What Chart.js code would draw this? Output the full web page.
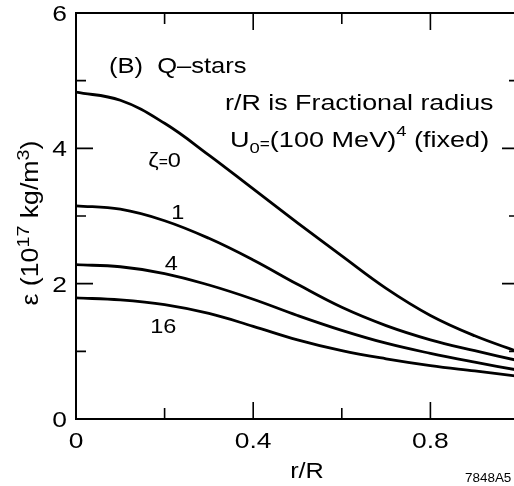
<!DOCTYPE html>
<html lang="en">
<head>
<meta charset="UTF-8">
<title>Q-stars energy density profile</title>
<script src="https://cdn.jsdelivr.net/npm/chart.js"></script>
<style>
  html, body { margin: 0; padding: 0; background: #fff; overflow: hidden; }
  #wrap { width: 514px; height: 486px; overflow: hidden; }
  #chart { width: 530px; height: 486px; }
</style>
</head>
<body>
<div id="wrap"><canvas id="chart" width="530" height="486"></canvas></div>
<script>
// fractional radius r/R
const radius = [0, 0.1, 0.2, 0.3, 0.4, 0.5, 0.6, 0.7, 0.8, 0.9, 1.0];
// energy density, 10^17 kg/m^3, one list per zeta
const zeta0 = [4.83, 4.71, 4.37, 3.90, 3.40, 2.90, 2.41, 1.93, 1.53, 1.23, 0.99];
const zeta1 = [3.15, 3.10, 2.93, 2.67, 2.35, 1.99, 1.65, 1.38, 1.17, 1.01, 0.86];
const zeta4 = [2.28, 2.25, 2.15, 1.98, 1.77, 1.53, 1.31, 1.12, 0.97, 0.84, 0.72];
const zeta16 = [1.79, 1.76, 1.69, 1.56, 1.37, 1.17, 1.01, 0.89, 0.79, 0.71, 0.63];
const curveNames = ['ζ=0', '1', '4', '16'];

const xTicks = [0, 0.4, 0.8];
const xMinor = [0.2, 0.6];
const yTicks = [0, 2, 4, 6];
const yMinor = [1, 3, 5];

const FONT = '"Liberation Sans", Arial, Helvetica, sans-serif';

function measure(ctx, s, size, sx) {
    ctx.font = size + 'px ' + FONT;
    return ctx.measureText(s).width * sx;
}

// draws a row of text pieces [text, size, dy]; sx widens the glyphs like the scan
function drawRuns(ctx, parts, x, y, align, sx) {
    sx = sx || 1.18;
    let total = 0;
    parts.forEach(p => total += measure(ctx, p[0], p[1], sx));
    let cx = x;
    if (align === 'center') cx = x - total / 2;
    if (align === 'right') cx = x - total;
    parts.forEach(p => {
        ctx.save();
        ctx.font = p[1] + 'px ' + FONT;
        ctx.textBaseline = 'alphabetic';
        ctx.translate(cx, y + (p[2] || 0));
        ctx.scale(sx, 1);
        ctx.fillText(p[0], 0, 0);
        ctx.restore();
        cx += measure(ctx, p[0], p[1], sx);
    });
}

const decor = {
    id: 'decor',
    afterDraw(chart) {
        const ctx = chart.ctx;
        const { left, right, top, bottom } = chart.chartArea;
        const xs = chart.scales.x, ys = chart.scales.y;
        ctx.save();
        ctx.strokeStyle = '#000';
        ctx.fillStyle = '#000';
        ctx.lineWidth = 2;
        ctx.strokeRect(left, top, right - left, bottom - top);

        ctx.lineWidth = 1.6;
        ctx.beginPath();
        xTicks.concat(xMinor).forEach(v => {
            const len = xTicks.includes(v) ? 17 : 11;
            const px = xs.getPixelForValue(v);
            ctx.moveTo(px, bottom); ctx.lineTo(px, bottom - len);
            ctx.moveTo(px, top); ctx.lineTo(px, top + len);
        });
        yTicks.concat(yMinor).forEach(v => {
            const len = yTicks.includes(v) ? 17 : 10;
            const py = ys.getPixelForValue(v);
            ctx.moveTo(left, py); ctx.lineTo(left + len, py);
            ctx.moveTo(right, py); ctx.lineTo(right - len, py);
        });
        ctx.stroke();

        // tick labels
        xTicks.forEach(v => {
            drawRuns(ctx, [[String(v), 22]], xs.getPixelForValue(v), bottom + 29, 'center', 1.2);
        });
        yTicks.forEach(v => {
            drawRuns(ctx, [[String(v), 22]], left - 9, ys.getPixelForValue(v) + 8, 'right', 1.2);
        });

        // axis titles
        drawRuns(ctx, [['r/R', 22]], 307, 478, 'center', 1.15);
        ctx.save();
        ctx.translate(38, 223);
        ctx.rotate(-Math.PI / 2);
        drawRuns(ctx, [['ε (10', 23], ['17', 17, -9], [' kg/m', 23], ['3', 17, -9], [')', 23]], 0, 0, 'center', 1.16);
        ctx.restore();

        // annotations
        drawRuns(ctx, [['(B)  Q–stars', 22]], 109, 73, 'left', 1.16);
        drawRuns(ctx, [['r/R is Fractional radius', 22]], 225, 110, 'left', 1.22);
        drawRuns(ctx, [['U', 22], ['0', 15, 6], ['=', 14, 2], ['(100 MeV)', 22], ['4', 15, -11], [' (fixed)', 22]], 230, 147, 'left', 1.23);

        // curve labels, placed in data space
        drawRuns(ctx, [['ζ', 21], ['=', 14], ['0', 21]], xs.getPixelForValue(0.2), ys.getPixelForValue(3.72), 'center', 1.12);
        drawRuns(ctx, [[curveNames[1], 21]], xs.getPixelForValue(0.23), ys.getPixelForValue(2.95), 'center', 1.12);
        drawRuns(ctx, [[curveNames[2], 21]], xs.getPixelForValue(0.215), ys.getPixelForValue(2.2), 'center', 1.12);
        drawRuns(ctx, [[curveNames[3], 21]], xs.getPixelForValue(0.197), ys.getPixelForValue(1.27), 'center', 1.12);

        drawRuns(ctx, [['7848A5', 12]], 465, 482, 'left', 1.12);
        ctx.restore();
    }
};

const series = [zeta0, zeta1, zeta4, zeta16];

new Chart(document.getElementById('chart'), {
    type: 'line',
    data: {
        datasets: series.map((vals, i) => ({
            label: curveNames[i],
            data: radius.map((r, k) => ({ x: r, y: vals[k] })),
            borderColor: '#000',
            borderWidth: 2.8,
            pointRadius: 0,
            tension: 0.4,
            fill: false
        }))
    },
    options: {
        responsive: false,
        animation: false,
        devicePixelRatio: 1,
        layout: { padding: { top: 13, right: 11, left: 0, bottom: 0 } },
        plugins: { legend: { display: false }, tooltip: { enabled: false } },
        scales: {
            x: {
                type: 'linear', min: 0, max: 1,
                grid: { display: false }, border: { display: false },
                ticks: { display: false },
                afterFit: s => { s.height = 67; }
            },
            y: {
                type: 'linear', min: 0, max: 6,
                grid: { display: false }, border: { display: false },
                ticks: { display: false },
                afterFit: s => { s.width = 76; }
            }
        }
    },
    plugins: [decor]
});
</script>
</body>
</html>
